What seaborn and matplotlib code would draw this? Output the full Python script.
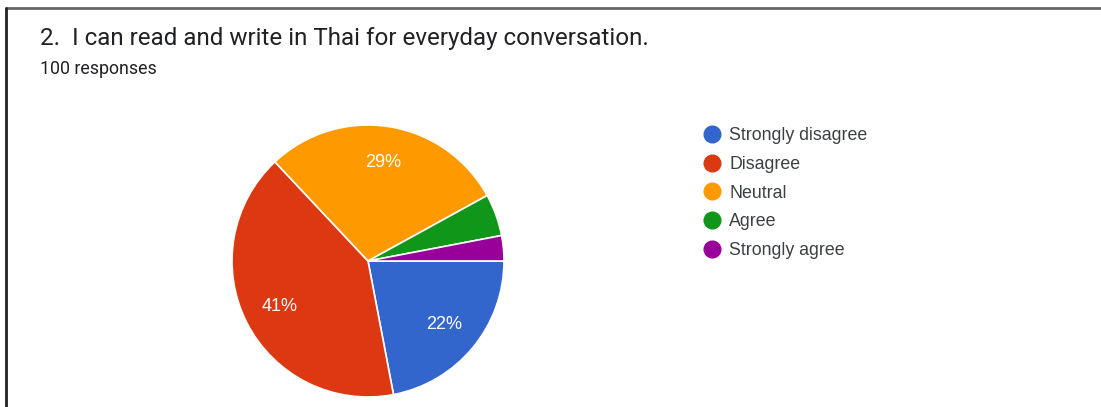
import matplotlib
matplotlib.use("Agg")
import matplotlib.pyplot as plt
from matplotlib.lines import Line2D
import seaborn as sns

categories = ["Strongly disagree", "Disagree", "Neutral", "Agree", "Strongly agree"]
values = [22, 41, 29, 5, 3]
colors = ["#3366CC", "#DC3912", "#FF9900", "#109618", "#990099"]
title = "2.  I can read and write in Thai for everyday conversation."
subtitle = "100 responses"

sns.set_theme(style="white")
plt.rcParams["font.family"] = ["Roboto", "DejaVu Sans"]

W, H = 1101, 407
fig = plt.figure(figsize=(W / 100, H / 100), dpi=100)
fig.patch.set_facecolor("white")

def fx(px):
    return px / W

def fy(py):
    return 1 - py / H

# pie axes
cx, cy, r = 368, 261, 136
ax = fig.add_axes([fx(cx - r), fy(cy + r), 2 * r / W, 2 * r / H])

def fmt(p):
    return f"{p:.0f}%" if p >= 10 else ""

wedges, texts, autotexts = ax.pie(
    values, colors=colors, startangle=0, counterclock=False,
    autopct=fmt, pctdistance=0.73,
    wedgeprops=dict(edgecolor="white", linewidth=1.2),
    textprops=dict(color="white", fontsize=13, family=["Liberation Sans", "DejaVu Sans"]),
)
ax.set_xlim(-1, 1)
ax.set_ylim(-1, 1)
ax.set_aspect("equal")
ax.axis("off")

# titles
fig.text(fx(40), fy(45), title, fontsize=17.4, color="#202124", ha="left", va="baseline")
fig.text(fx(40), fy(74), subtitle, fontsize=12.8, color="#202124", ha="left", va="baseline")

# legend
handles = [Line2D([0], [0], marker="o", linestyle="", markersize=12,
                  markerfacecolor=c, markeredgecolor=c) for c in colors]
leg = fig.legend(handles, categories, loc="upper left",
                 bbox_to_anchor=(fx(701.6), fy(127.5)), frameon=False,
                 prop=dict(size=12.8, family=["Liberation Sans", "DejaVu Sans"]),
                 labelspacing=0.65, handletextpad=0.36,
                 handlelength=1.2, borderpad=0, borderaxespad=0)
for t in leg.get_texts():
    t.set_color("#3c4043")

# frame lines
fig.add_artist(Line2D([fx(6), 1], [fy(8), fy(8)], color="#666666", linewidth=2))
fig.add_artist(Line2D([fx(6), fx(6)], [fy(8), 0], color="#222222", linewidth=2))

fig.savefig("out.png", dpi=100, facecolor="white")
